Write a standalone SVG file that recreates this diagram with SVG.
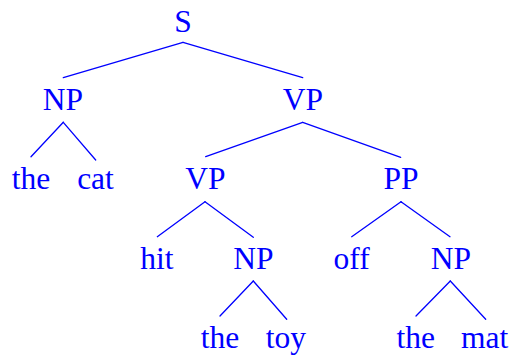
<svg xmlns="http://www.w3.org/2000/svg" width="511" height="355" viewBox="0 0 511 355">
<style>
text{font-family:"Liberation Serif","Times New Roman",serif;font-size:31.5px;fill:#0000ff;text-anchor:middle}
#edges line{stroke:#0000ff;stroke-width:1.3;stroke-linecap:round}
</style>
<rect width="511" height="355" fill="#ffffff"/>
<g id="edges">
<line x1="183" y1="42.3" x2="63.3" y2="77.7"/>
<line x1="183" y1="42.3" x2="302.7" y2="77.7"/>
<line x1="63.3" y1="122.3" x2="31" y2="156.7"/>
<line x1="63.3" y1="122.3" x2="95.7" y2="160"/>
<line x1="302.7" y1="122.3" x2="205.7" y2="156.7"/>
<line x1="302.7" y1="122.3" x2="400.7" y2="157.3"/>
<line x1="205" y1="201.7" x2="157.3" y2="236.7"/>
<line x1="205" y1="201.7" x2="253.3" y2="237.3"/>
<line x1="401" y1="201.7" x2="351.7" y2="236.7"/>
<line x1="401" y1="201.7" x2="450" y2="236.7"/>
<line x1="253.3" y1="281" x2="220" y2="316"/>
<line x1="253.3" y1="281" x2="286.7" y2="319.3"/>
<line x1="450.3" y1="281" x2="416" y2="316"/>
<line x1="450.3" y1="281" x2="485.7" y2="319.3"/>
</g>
<g id="S"><text x="183" y="32">S</text></g>
<g id="NP1"><text x="63" y="110">NP</text></g>
<g id="the1"><text x="31" y="189">the</text></g>
<g id="cat"><text x="95.5" y="189">cat</text></g>
<g id="VP1"><text x="303" y="110">VP</text></g>
<g id="VP2"><text x="205.5" y="189">VP</text></g>
<g id="PP"><text x="401" y="189">PP</text></g>
<g id="hit"><text x="157" y="269">hit</text></g>
<g id="NP2"><text x="253.5" y="269">NP</text></g>
<g id="off"><text x="351.7" y="269">off</text></g>
<g id="NP3"><text x="450.8" y="269">NP</text></g>
<g id="the2"><text x="220" y="348">the</text></g>
<g id="toy"><text x="286" y="348">toy</text></g>
<g id="the3"><text x="415.7" y="348">the</text></g>
<g id="mat"><text x="484.7" y="348">mat</text></g>
</svg>
